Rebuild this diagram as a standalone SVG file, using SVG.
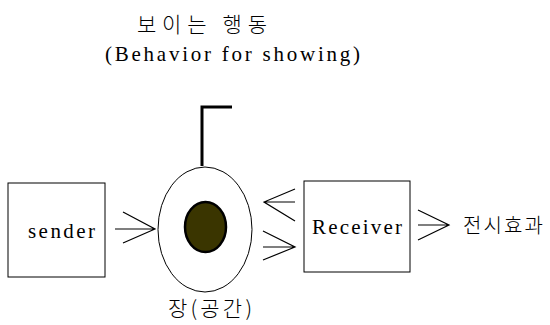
<svg xmlns="http://www.w3.org/2000/svg" width="550" height="325" viewBox="0 0 550 325">
<style>
.t{font-family:"Liberation Serif","Noto Sans CJK KR",serif;fill:#000}
.k{font-family:"Noto Sans CJK KR","Liberation Serif",sans-serif;fill:#000;font-weight:300}
.box{fill:#fff;stroke:#000;stroke-width:1}
.ln{fill:none;stroke:#000;stroke-width:1.2}
</style>
<rect width="550" height="325" fill="#fff"/>
<g id="title">
<text class="k" x="137" y="32" font-size="21" textLength="130" lengthAdjust="spacing">보이는 행동</text>
<text class="t" x="105" y="61" font-size="21" textLength="255" lengthAdjust="spacing">(Behavior for showing)</text>
</g>
<g id="sender">
<rect class="box" x="8" y="183" width="97" height="94"/>
<text class="t" x="28" y="238" font-size="21" textLength="67" lengthAdjust="spacing">sender</text>
</g>
<g id="field">
<ellipse cx="205" cy="229.5" rx="47" ry="62.5" fill="#fff" stroke="#000" stroke-width="1"/>
<ellipse cx="205.5" cy="227" rx="20.5" ry="25" fill="#3a3500" stroke="#000" stroke-width="2.5"/>
<path d="M202 166V107H232" fill="none" stroke="#000" stroke-width="3"/>
<text class="k" x="168" y="316" font-size="21" textLength="84" lengthAdjust="spacing">장(공간)</text>
</g>
<g id="receiver">
<rect class="box" x="304" y="181" width="106" height="91"/>
<text class="t" x="312" y="234" font-size="21" textLength="90" lengthAdjust="spacing">Receiver</text>
</g>
<g id="effect">
<text class="k" x="463" y="233" font-size="20" textLength="80" lengthAdjust="spacing">전시효과</text>
</g>
<g id="connectors">
<path class="ln" d="M115 229H155M123 212L155 229L123 243"/>
<path class="ln" d="M265 202H295M295 189L264 202L295 221"/>
<path class="ln" d="M263 247H295M263 231L295 247L263 260"/>
<path class="ln" d="M418 225H449M418 210L449 225L418 240"/>
</g>
</svg>
